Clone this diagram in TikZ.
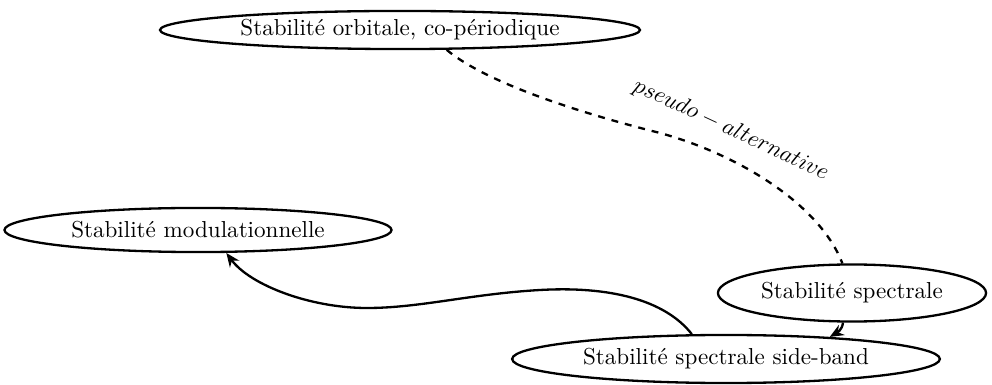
\documentclass[tikz,border=0pt]{standalone}
\usetikzlibrary{shapes.geometric,arrows.meta}
\begin{document}
\begin{tikzpicture}[x=0.433pt,y=-0.433pt,
  ell/.style={ellipse,draw,line width=1pt,inner sep=0pt},
  conn/.style={line width=1pt},
  arr/.style={conn,-{Stealth[length=6pt,width=5pt]}}]
\useasboundingbox (0,0) rectangle (992,385);
\node[ell,minimum width=207.8pt,minimum height=16.5pt] (top) at (400,30) {Stabilité orbitale, co-périodique};
\node[ell,minimum width=167.6pt,minimum height=19.1pt] (mod) at (198,230) {Stabilité modulationnelle};
\node[ell,minimum width=116.1pt,minimum height=24.7pt] (spec) at (852,293) {Stabilité spectrale};
\node[ell,minimum width=185.2pt,minimum height=20.8pt] (sb) at (726,359) {Stabilité spectrale side-band};
\draw[conn,dashed] (top.-23) .. controls (480,78) and (560,108) .. (660,133)
  .. controls (740,155) and (820,205) .. (spec.108);
\node[rotate=-25] (lab) at (731,130) {$pseudo-alternative$};
\draw[arr] (sb.144) .. controls (665,300) and (610,286) .. (540,290)
  .. controls (470,294) and (420,308) .. (367,308)
  .. controls (310,308) and (250,285) .. (mod.-39);
\draw[arr] (spec.-107) to[out=-95,in=30] (sb.12);
\end{tikzpicture}
\end{document}
